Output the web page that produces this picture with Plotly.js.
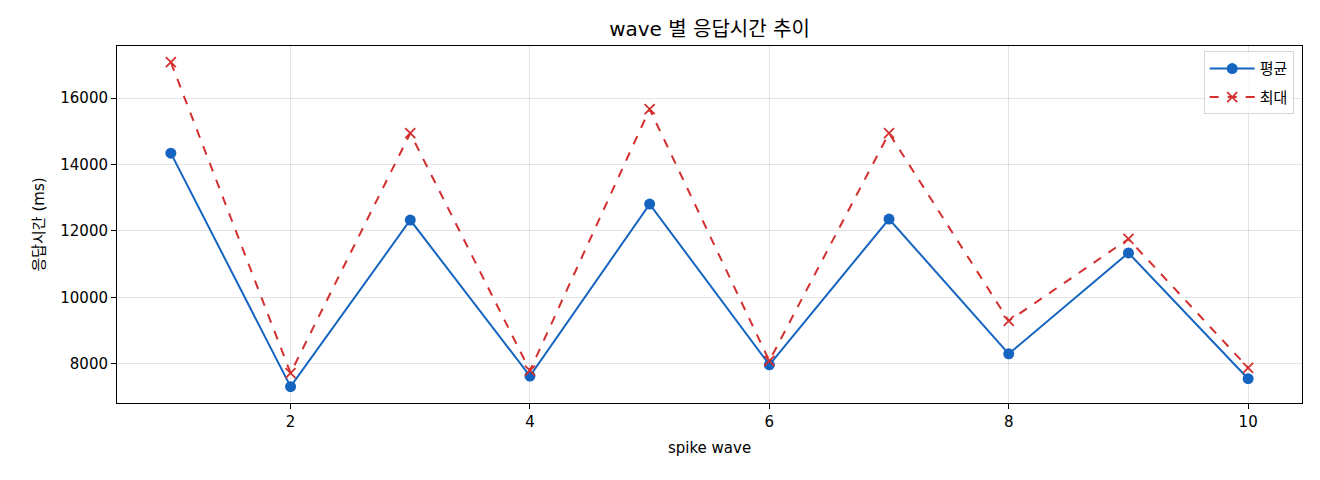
<!DOCTYPE html>
<html>
<head>
<meta charset="utf-8">
<script src="https://cdn.plot.ly/plotly-3.0.1.min.js"></script>
<style>html,body{margin:0;padding:0;background:#fff;}#chart{width:1320px;height:480px;}</style>
</head>
<body>
<div id="chart"></div>
<script>
const waves = [1, 2, 3, 4, 5, 6, 7, 8, 9, 10];
const avgMs = [14345, 7310, 12330, 7630, 12810, 7970, 12360, 8300, 11340, 7550];
const maxMs = [17085, 7720, 14945, 7795, 15670, 8090, 14945, 9290, 11760, 7880];
const xTicks = [2, 4, 6, 8, 10];
const yTicks = [8000, 10000, 12000, 14000, 16000];

const font = "'DejaVu Sans', 'Noto Sans CJK KR', sans-serif";

const traces = [
  {
    x: waves, y: avgMs, name: '평균', type: 'scatter', mode: 'lines+markers',
    legendgroup: 'a',
    line: {color: '#1565C0', width: 2},
    marker: {symbol: 'circle', size: 11, color: '#1565C0'}
  },
  {
    x: waves, y: maxMs, name: '최대', type: 'scatter', mode: 'lines+markers',
    legendgroup: 'b',
    line: {color: '#D32F2F', width: 2, dash: 'dash'},
    marker: {symbol: 'x-thin', size: 10, color: '#D32F2F', line: {color: '#D32F2F', width: 1.8}}
  }
];

const layout = {
  width: 1320, height: 480,
  margin: {l: 117, r: 18, t: 46, b: 77},
  paper_bgcolor: '#fff', plot_bgcolor: '#fff',
  font: {family: font, size: 15, color: '#000'},
  title: {text: 'wave 별 응답시간 추이', xref: 'paper', x: 0.5, xanchor: 'center', yref: 'container', y: 0.94, yanchor: 'middle', font: {family: font, size: 20, color: '#000'}},
  xaxis: {
    range: [0.55, 10.45], tickvals: xTicks, ticktext: xTicks.map(String),
    showgrid: true, gridcolor: 'rgba(0,0,0,0.1)', gridwidth: 1,
    zeroline: false, showline: true, linecolor: '#000', linewidth: 1, mirror: true,
    ticks: 'outside', ticklen: 5, tickcolor: '#000',
    tickfont: {family: font, size: 15},
    title: {text: 'spike wave', font: {family: font, size: 15}, standoff: 12}
  },
  yaxis: {
    range: [6819, 17572], tickvals: yTicks, ticktext: yTicks.map(String),
    showgrid: true, gridcolor: 'rgba(0,0,0,0.1)', gridwidth: 1,
    zeroline: false, showline: true, linecolor: '#000', linewidth: 1, mirror: true,
    ticks: 'outside', ticklen: 5, tickcolor: '#000',
    tickfont: {family: font, size: 15},
    title: {text: '응답시간 (ms)', font: {family: font, size: 15}, standoff: 12}
  },
  legend: {
    x: 0.993, y: 0.985, xanchor: 'right', yanchor: 'top',
    bgcolor: 'rgba(255,255,255,0.8)', bordercolor: '#d6d6d6', borderwidth: 1,
    font: {family: font, size: 15}, itemwidth: 45,
    traceorder: 'grouped', tracegroupgap: 6
  },
  showlegend: true
};

Plotly.newPlot('chart', traces, layout, {staticPlot: true, displayModeBar: false});
</script>
</body>
</html>
